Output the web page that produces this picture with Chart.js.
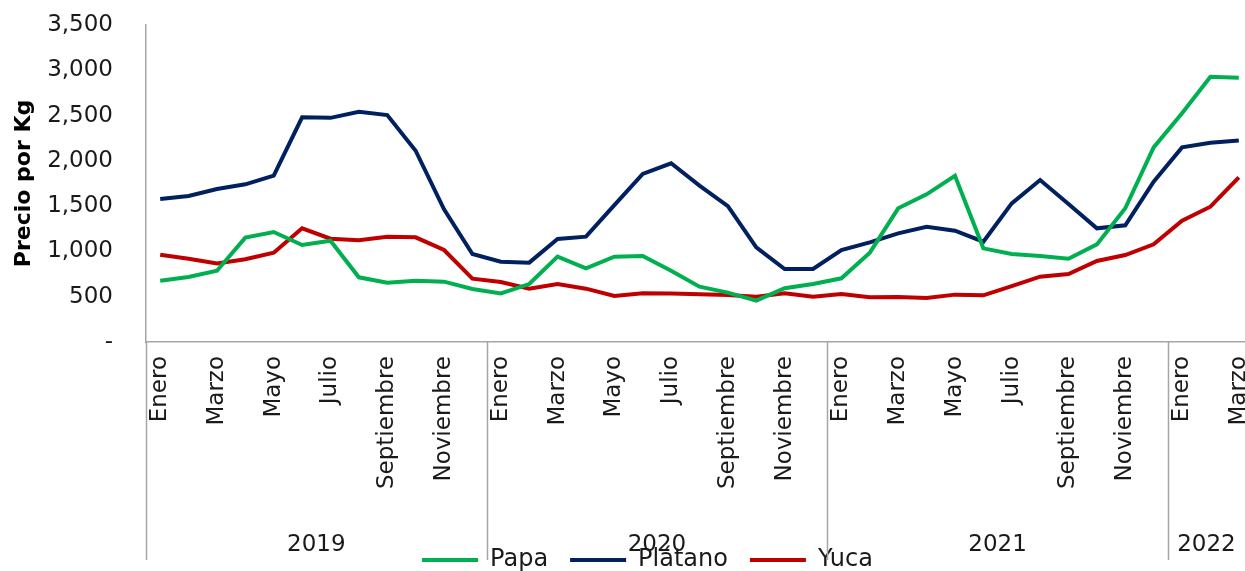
<!DOCTYPE html>
<html>
<head>
<meta charset="utf-8">
<style>
  html, body { margin: 0; padding: 0; background: #fff; overflow: hidden; }
  #myChart { display: block; }
</style>
</head>
<body>
<canvas id="myChart" width="1262" height="571"></canvas>
<script src="https://cdn.jsdelivr.net/npm/chart.js@4.4.1/dist/chart.umd.min.js"></script>
<script>
const monthNames = ['Enero','Febrero','Marzo','Abril','Mayo','Junio','Julio','Agosto','Septiembre','Octubre','Noviembre','Diciembre'];
const years = ['2019','2020','2021','2022'];
const monthsPerYear = [12, 12, 12, 3];

const papa = [677, 718, 787, 1152, 1214, 1071, 1118, 714, 655, 677, 666, 585,
              537, 640, 942, 813, 942, 949, 787, 611, 545, 456, 593, 640,
              703, 986, 1476, 1630, 1836, 1034, 971, 949, 920, 1078, 1476, 2149,
              2525, 2929, 2918];
const platano = [1579, 1612, 1689, 1741, 1836, 2481, 2475, 2543, 2506, 2112, 1465, 971,
                 887, 876, 1137, 1163, 1512, 1855, 1973, 1726, 1501, 1045, 806, 806,
                 1016, 1100, 1200, 1273, 1229, 1107, 1531, 1788, 1523, 1255, 1288, 1770,
                 2149, 2200, 2226];
const yuca = [964, 920, 868, 913, 986, 1255, 1141, 1123, 1163, 1156, 1016, 699,
              662, 589, 640, 589, 508, 537, 535, 526, 519, 501, 537, 501,
              530, 493, 497, 486, 523, 515, 618, 721, 751, 894, 960, 1078,
              1339, 1494, 1818];

// category labels, one per month
const labels = [];
const yearStart = [];
years.forEach((y, k) => {
  yearStart.push(labels.length);
  for (let m = 0; m < monthsPerYear[k]; m++) labels.push(monthNames[m]);
});

const FONT = "'DejaVu Sans', sans-serif";
const PLOT_BOTTOM = 342;

// year groups under the month labels, with separators
const yearGroups = {
  id: 'yearGroups',
  afterLayout(chart) {
    // legend sits a bit lower and right of centre in the original
    const lg = chart.legend;
    lg.left += 21; lg.right += 21;
    lg.top += 11; lg.bottom += 11;
  },
  afterDraw(chart) {
    const {ctx} = chart;
    const x = chart.scales.x;
    const half = (x.getPixelForValue(1) - x.getPixelForValue(0)) / 2;
    const top = chart.chartArea.bottom;
    ctx.save();
    ctx.strokeStyle = '#a6a6a6';
    ctx.lineWidth = 1.5;
    ctx.fillStyle = '#1a1a1a';
    ctx.font = '23px ' + FONT;
    ctx.textAlign = 'center';
    ctx.textBaseline = 'middle';
    years.forEach((y, k) => {
      const s = yearStart[k];
      const e = s + monthsPerYear[k] - 1;
      const left = x.getPixelForValue(s) - half;
      const right = Math.min(x.getPixelForValue(e) + half, 1245);
      ctx.beginPath();
      ctx.moveTo(Math.round(left) + 0.5, top);
      ctx.lineTo(Math.round(left) + 0.5, 560);
      ctx.stroke();
      ctx.fillText(y, (left + right) / 2, 545);
    });
    ctx.restore();
  }
};

new Chart(document.getElementById('myChart'), {
  type: 'line',
  plugins: [yearGroups],
  data: {
    labels: labels,
    datasets: [
      { label: 'Papa', data: papa, borderColor: '#00B050', backgroundColor: '#00B050', borderWidth: 4, pointBorderWidth: 4 },
      { label: 'Plátano', data: platano, borderColor: '#002060', backgroundColor: '#002060', borderWidth: 4, pointBorderWidth: 4 },
      { label: 'Yuca', data: yuca, borderColor: '#C00000', backgroundColor: '#C00000', borderWidth: 4, pointBorderWidth: 4 }
    ]
  },
  options: {
    responsive: false,
    animation: false,
    elements: {
      line: { tension: 0 },
      point: { radius: 0 }
    },
    layout: { padding: { top: 25, right: 9, left: 0, bottom: 0 } },
    plugins: {
      tooltip: { enabled: false },
      legend: {
        position: 'bottom',
        labels: {
          usePointStyle: true,
          pointStyle: 'line',
          pointStyleWidth: 56,
          padding: 22,
          color: '#1a1a1a',
          font: { family: FONT, size: 24 }
        }
      }
    },
    scales: {
      x: {
        type: 'category',
        offset: true,
        grid: { display: false, drawTicks: false },
        border: { display: true, color: '#a6a6a6', width: 1.5 },
        ticks: {
          autoSkip: false,
          minRotation: 90,
          maxRotation: 90,
          padding: 14,
          color: '#1a1a1a',
          font: { family: FONT, size: 23 },
          callback: function(value, index) {
            return index % 2 === 0 ? this.getLabelForValue(value) : '';
          }
        },
        afterFit(scale) {
          const lh = scale.chart.legend ? scale.chart.legend.height : 0;
          scale.height = 571 - PLOT_BOTTOM - lh;
          scale.paddingLeft = 0;
          scale.paddingRight = 0;
        }
      },
      y: {
        min: 0,
        max: 3500,
        grid: { display: false, drawTicks: false },
        border: { display: true, color: '#a6a6a6', width: 1.5 },
        ticks: {
          stepSize: 500,
          padding: 33,
          color: '#1a1a1a',
          font: { family: FONT, size: 23 },
          callback: v => v === 0 ? '-' : v.toLocaleString('en-US')
        },
        title: {
          display: true,
          text: 'Precio por Kg',
          color: '#000',
          padding: { top: 11, bottom: 0 },
          font: { family: FONT, size: 22, weight: 'bold' }
        },
        afterFit(scale) {
          scale.width = 146;
          scale.paddingTop = 0;
          scale.paddingBottom = 0;
        }
      }
    }
  }
});
</script>
</body>
</html>
